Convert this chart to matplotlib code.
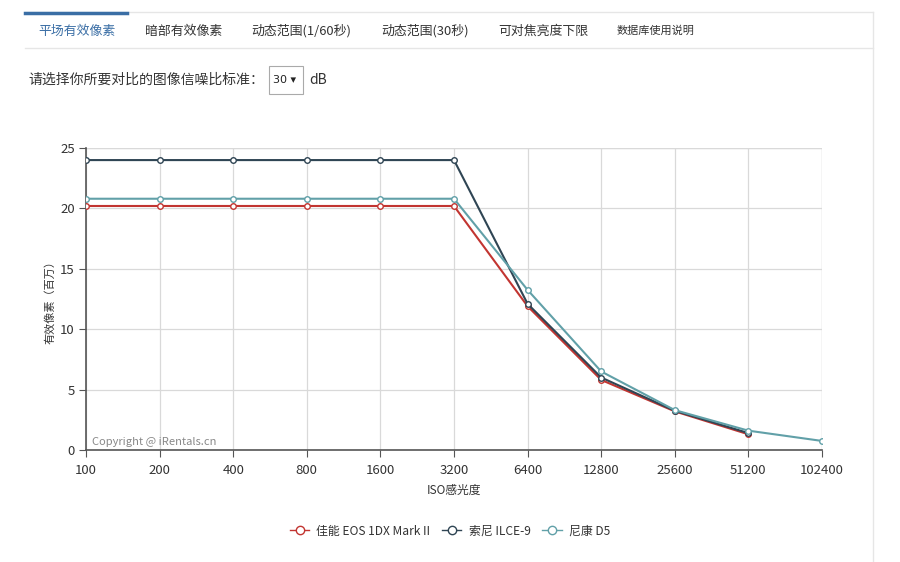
import matplotlib
matplotlib.use("Agg")
import matplotlib.pyplot as plt
import numpy as np
from matplotlib.patches import Rectangle
from matplotlib.lines import Line2D

plt.rcParams['font.family'] = ['Noto Sans CJK SC', 'DejaVu Sans']

iso_labels = ["100", "200", "400", "800", "1600", "3200", "6400", "12800", "25600", "51200", "102400"]
canon = [20.2, 20.2, 20.2, 20.2, 20.2, 20.2, 11.9, 5.8, 3.2, 1.3, np.nan]
sony = [24.0, 24.0, 24.0, 24.0, 24.0, 24.0, 12.1, 6.0, 3.25, 1.4, np.nan]
nikon = [20.8, 20.8, 20.8, 20.8, 20.8, 20.8, 13.25, 6.5, 3.3, 1.6, 0.75]
series_names = ["佳能 EOS 1DX Mark II", "索尼 ILCE-9", "尼康 D5"]
series_colors = ["#c23531", "#2f4554", "#61a0a8"]
y_ticks = [0, 5, 10, 15, 20, 25]
tabs = ["平场有效像素", "暗部有效像素", "动态范围(1/60秒)", "动态范围(30秒)", "可对焦亮度下限", "数据库使用说明"]

W, H = 900, 562
fig = plt.figure(figsize=(9, 5.62), dpi=100)
fig.patch.set_facecolor("white")

def fx(x):
    return x / W

def fy(y):
    return 1 - y / H

# card border
fig.add_artist(Line2D([fx(25), fx(873)], [fy(12), fy(12)], color="#e6e6e6", lw=1))
fig.add_artist(Line2D([fx(873), fx(873)], [fy(12), fy(562)], color="#e6e6e6", lw=1))
fig.add_artist(Line2D([fx(25), fx(873)], [fy(48), fy(48)], color="#e6e6e6", lw=1))
fig.add_artist(Line2D([fx(25), fx(127)], [fy(12.5), fy(12.5)], color="#3a6ea5", lw=2.5))

tab_x = [38, 145, 251, 381, 498, 617]
for i, (t, x) in enumerate(zip(tabs, tab_x)):
    fig.text(fx(x), fy(31), t, fontsize=9.3 if i < 5 else 8,
             color="#3a6ea5" if i == 0 else "#333333", va="center", ha="left")

fig.text(fx(28), fy(80), "请选择你所要对比的图像信噪比标准：", fontsize=10, color="#333333", va="center")
fig.add_artist(Rectangle((fx(269), fy(94)), fx(34), 28 / H, fill=False, ec="#aaaaaa", lw=0.8))
fig.text(fx(273), fy(80), "30 ▾", fontsize=8, color="#222222", va="center",
         family=["DejaVu Sans"])
fig.text(fx(309), fy(80), "dB", fontsize=10, color="#333333", va="center")

ax = fig.add_axes([fx(86), fy(450), fx(822 - 86), (450 - 148) / H])
x = np.arange(len(iso_labels))
for vals, c in zip([canon, sony, nikon], series_colors):
    ax.plot(x, vals, color=c, lw=1.5, marker="o", ms=4, mfc="white", mec=c, mew=1, zorder=3)

ax.set_xlim(0, len(iso_labels) - 1)
ax.set_ylim(0, 25)
ax.set_xticks(x)
ax.set_xticklabels(iso_labels)
ax.set_yticks(y_ticks)
ax.grid(True, color="#d9d9d9", lw=0.9)
ax.set_axisbelow(True)
for s in ["top", "right"]:
    ax.spines[s].set_visible(False)
ax.spines["left"].set_color("#555555")
ax.spines["bottom"].set_color("#555555")
ax.spines["left"].set_linewidth(1.2)
ax.spines["bottom"].set_linewidth(1.2)
ax.tick_params(axis="both", direction="out", length=5, color="#555555", labelsize=9.5,
               labelcolor="#333333", pad=3)
ax.tick_params(axis="x", pad=5)
ax.axhline(25, color="#d9d9d9", lw=0.9, zorder=0)
ax.axvline(len(iso_labels) - 1, color="#d9d9d9", lw=0.9, zorder=0)

fig.text(fx(50), fy(300), "有效像素（百万）", rotation=90, fontsize=8, color="#333333",
         va="center", ha="center")
fig.text(fx(454), fy(490), "ISO感光度", fontsize=8.5, color="#333333", va="center", ha="center")
fig.text(fx(92), fy(442), "Copyright @ iRentals.cn", fontsize=8, color="#888888", va="center", ha="left")

handles = [Line2D([0], [0], color=c, lw=1, marker="o", ms=6, mfc="white", mec=c, mew=1)
           for c in series_colors]
fig.legend(handles, series_names, loc="center", bbox_to_anchor=(0.5, fy(531)), ncol=3,
           frameon=False, fontsize=8.6, handlelength=1.6, columnspacing=1.0, handletextpad=0.6,
           labelcolor="#333333")

fig.savefig("out.png", dpi=100, facecolor="white")
